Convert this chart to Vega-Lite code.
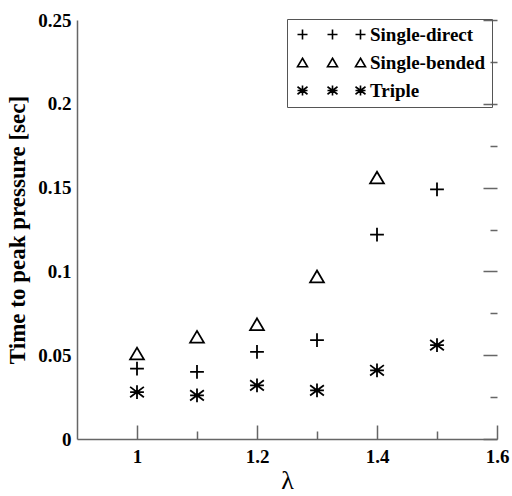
{
  "$schema": "https://vega.github.io/schema/vega-lite/v6.json",
  "width": 420,
  "height": 419,
  "autosize": "none",
  "padding": {"left": 77, "top": 20, "right": 15, "bottom": 57},
  "background": "white",
  "config": {"view": {"stroke": null}},
  "data": {
    "values": [
      {"lambda": 1.0, "t": 0.042, "series": "Single-direct"},
      {"lambda": 1.1, "t": 0.040, "series": "Single-direct"},
      {"lambda": 1.2, "t": 0.052, "series": "Single-direct"},
      {"lambda": 1.3, "t": 0.059, "series": "Single-direct"},
      {"lambda": 1.4, "t": 0.122, "series": "Single-direct"},
      {"lambda": 1.5, "t": 0.149, "series": "Single-direct"},
      {"lambda": 1.0, "t": 0.051, "series": "Single-bended"},
      {"lambda": 1.1, "t": 0.061, "series": "Single-bended"},
      {"lambda": 1.2, "t": 0.0685, "series": "Single-bended"},
      {"lambda": 1.3, "t": 0.097, "series": "Single-bended"},
      {"lambda": 1.4, "t": 0.156, "series": "Single-bended"},
      {"lambda": 1.0, "t": 0.028, "series": "Triple"},
      {"lambda": 1.1, "t": 0.026, "series": "Triple"},
      {"lambda": 1.2, "t": 0.032, "series": "Triple"},
      {"lambda": 1.3, "t": 0.029, "series": "Triple"},
      {"lambda": 1.4, "t": 0.041, "series": "Triple"},
      {"lambda": 1.5, "t": 0.056, "series": "Triple"}
    ]
  },
  "encoding": {
    "x": {
      "field": "lambda", "type": "quantitative",
      "scale": {"domain": [0.9, 1.6], "nice": false, "zero": false},
      "axis": {
        "title": "λ",
        "titleFont": "Liberation Serif", "titleFontSize": 26, "titleFontWeight": "normal", "titleColor": "black",
        "titlePadding": 1,
        "values": [1.0, 1.1, 1.2, 1.3, 1.4, 1.5, 1.6],
        "labelExpr": "round(datum.value*10)%2==0 ? toString(round(datum.value*10)/10) : ''",
        "labelFont": "Liberation Serif", "labelFontSize": 19, "labelFontWeight": "bold", "labelColor": "black",
        "labelPadding": 8,
        "ticks": false, "tickSize": 0,
        "grid": true,
        "gridColor": "#666", "gridWidth": 1.5, "gridOpacity": 1,
        "gridDash": {"condition": {"test": "round(datum.value*10)%2==0", "value": [0, 405, 14, 2000]}, "value": [0, 411, 8, 2000]},
        "domainColor": "#666", "domainWidth": 1.5,
        "labelFlush": false
      }
    },
    "y": {
      "field": "t", "type": "quantitative",
      "scale": {"domain": [0, 0.25], "nice": false, "zero": false},
      "axis": {
        "title": "Time to peak pressure [sec]",
        "titleFont": "Liberation Serif", "titleFontSize": 23, "titleFontWeight": "bold", "titleColor": "black",
        "titlePadding": 8,
        "values": [0, 0.025, 0.05, 0.075, 0.1, 0.125, 0.15, 0.175, 0.2, 0.225, 0.25],
        "labelExpr": "round(datum.value*40)%2==0 ? toString(round(datum.value*100)/100) : ''",
        "labelFont": "Liberation Serif", "labelFontSize": 19, "labelFontWeight": "bold", "labelColor": "black",
        "labelPadding": 6,
        "ticks": false, "tickSize": 0,
        "grid": true,
        "gridColor": "#666", "gridWidth": 1.5, "gridOpacity": 1,
        "gridDash": {"condition": {"test": "round(datum.value*40)%2==0", "value": [0, 406, 14, 2000]}, "value": [0, 413, 7, 2000]},
        "domainColor": "#666", "domainWidth": 1.5,
        "labelFlush": false
      }
    }
  },
  "layer": [
    {
      "mark": {"type": "point", "filled": false, "stroke": "black", "strokeWidth": 1.6, "size": 0},
      "encoding": {
        "shape": {
          "field": "series", "type": "nominal",
          "scale": {
            "domain": ["Single-direct", "Single-bended", "Triple"],
            "range": [
              "M-1,0L1,0M0,-1L0,1M5,0L7,0M6,-1L6,1M10.6,0L12.6,0M11.6,-1L11.6,1",
              "M0,-0.85L1,0.85L-1,0.85ZM6,-0.85L7,0.85L5,0.85ZM11.6,-0.85L12.6,0.85L10.6,0.85Z",
              "M-1,-0.75L1,0.75M-1,0.75L1,-0.75M0,-1L0,1M-1,0L1,0M5,-0.75L7,0.75M5,0.75L7,-0.75M6,-1L6,1M5,0L7,0M10.6,-0.75L12.6,0.75M10.6,0.75L12.6,-0.75M11.6,-1L11.6,1M10.6,0L12.6,0"
            ]
          },
          "legend": {
            "title": null,
            "orient": "none",
            "legendX": 210,
            "legendY": -1,
            "strokeColor": "#555",
            "padding": 6,
            "symbolSize": 100,
            "symbolOpacity": 1,
            "symbolStrokeColor": "black",
            "symbolStrokeWidth": 1.6,
            "labelFont": "Liberation Serif", "labelFontSize": 19, "labelFontWeight": "bold", "labelColor": "black",
            "labelOffset": 58,
            "rowPadding": 8
          }
        }
      }
    },
    {
      "mark": {"type": "point", "filled": false, "stroke": "black", "strokeWidth": 1.8, "size": 190, "opacity": 1},
      "encoding": {
        "shape": {
          "field": "series", "type": "nominal",
          "scale": {
            "domain": ["Single-direct", "Single-bended", "Triple"],
            "range": [
              "M-1,0L1,0M0,-1L0,1",
              "M0,-0.85L1,0.85L-1,0.85Z",
              "M-1,-0.75L1,0.75M-1,0.75L1,-0.75M0,-1L0,1M-1,0L1,0"
            ]
          },
          "legend": null
        }
      }
    }
  ],
  "resolve": {"scale": {"shape": "independent"}}
}
